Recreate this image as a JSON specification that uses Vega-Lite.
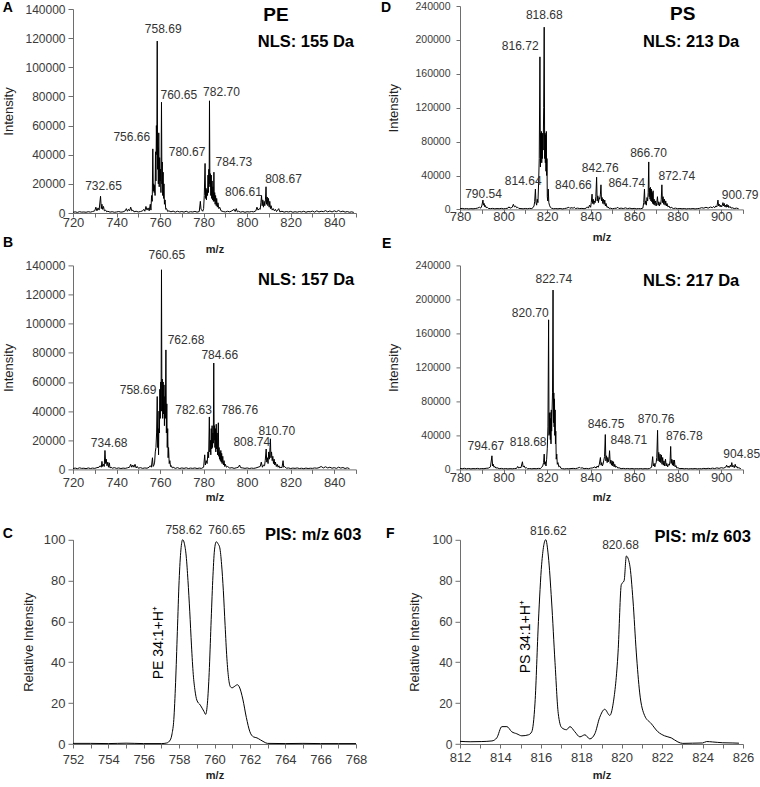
{
"$schema": "https://vega.github.io/schema/vega-lite/v6.json",
"padding": {"left": 2, "top": 1, "right": 0, "bottom": 0},
"config": {
 "font": "Liberation Sans",
 "view": {"stroke": null},
 "axis": {"domainColor": "#6e6e6e", "tickColor": "#6e6e6e", "labelColor": "#3a3a3a", "titleColor": "#222222", "grid": false, "labelFont": "Liberation Sans", "titleFont": "Liberation Sans", "labelFlush": false, "labelOverlap": false, "domainWidth": 1, "tickWidth": 1},
 "axisX": {"tickSize": 4, "labelPadding": 1, "labelFontSize": 13, "titleFontSize": 11, "titleFontWeight": "bold", "titlePadding": 10},
 "axisY": {"tickSize": 5, "labelPadding": 3, "labelFontSize": 12, "titleFontSize": 13, "titleFontWeight": "normal", "titlePadding": 9},
 "title": {"anchor": "start", "frame": "group", "offset": 0, "fontSize": 14, "fontWeight": "bold", "font": "Liberation Sans", "color": "#000000", "baseline": "alphabetic"}
},
"columns": 2,
"align": "each",
"bounds": "flush",
"spacing": {"row": 52.4, "column": 104},
"datasets": {
 "A": [{"m":720,"v":500},{"m":721,"v":800},{"m":722,"v":400},{"m":723,"v":900},{"m":724,"v":600},{"m":725,"v":700},{"m":726,"v":500},{"m":727,"v":900},{"m":728,"v":600},{"m":729,"v":1000},{"m":730,"v":1500},{"m":730.5,"v":4000},{"m":731,"v":1500},{"m":731.5,"v":3500},{"m":732,"v":2000},{"m":732.65,"v":11500},{"m":733,"v":3000},{"m":733.3,"v":6000},{"m":733.6,"v":2500},{"m":734,"v":4500},{"m":734.4,"v":1500},{"m":735,"v":2000},{"m":735.5,"v":800},{"m":736,"v":1200},{"m":737,"v":600},{"m":738,"v":900},{"m":739,"v":500},{"m":740,"v":700},{"m":741,"v":1000},{"m":742,"v":600},{"m":743,"v":800},{"m":744,"v":1500},{"m":744.5,"v":3000},{"m":745,"v":1200},{"m":745.5,"v":2500},{"m":746,"v":1500},{"m":746.5,"v":4000},{"m":747,"v":1500},{"m":747.5,"v":2000},{"m":748,"v":800},{"m":749,"v":1200},{"m":750,"v":700},{"m":751,"v":1000},{"m":752,"v":1500},{"m":752.5,"v":2500},{"m":753,"v":1200},{"m":753.5,"v":4500},{"m":754,"v":2000},{"m":754.5,"v":3500},{"m":755,"v":1500},{"m":755.5,"v":6000},{"m":755.8,"v":2000},{"m":756.1,"v":12000},{"m":756.4,"v":8000},{"m":756.66,"v":44000},{"m":756.9,"v":15000},{"m":757.1,"v":20000},{"m":757.3,"v":14000},{"m":757.5,"v":19000},{"m":757.7,"v":12000},{"m":757.9,"v":42000},{"m":758.1,"v":22000},{"m":758.3,"v":60000},{"m":758.5,"v":40000},{"m":758.69,"v":118000},{"m":758.85,"v":30000},{"m":759,"v":45000},{"m":759.2,"v":20000},{"m":759.4,"v":55000},{"m":759.6,"v":18000},{"m":759.8,"v":38000},{"m":760,"v":22000},{"m":760.2,"v":30000},{"m":760.4,"v":14000},{"m":760.65,"v":76000},{"m":760.85,"v":20000},{"m":761,"v":35000},{"m":761.2,"v":12000},{"m":761.4,"v":28000},{"m":761.6,"v":10000},{"m":761.8,"v":20000},{"m":762,"v":6000},{"m":762.3,"v":9000},{"m":762.6,"v":2500},{"m":763,"v":3000},{"m":763.5,"v":1000},{"m":764,"v":1500},{"m":765,"v":800},{"m":766,"v":1300},{"m":767,"v":600},{"m":768,"v":1200},{"m":769,"v":700},{"m":770,"v":1000},{"m":771,"v":600},{"m":772,"v":1200},{"m":773,"v":500},{"m":774,"v":900},{"m":775,"v":700},{"m":776,"v":1100},{"m":777,"v":600},{"m":778,"v":1000},{"m":778.5,"v":8000},{"m":778.8,"v":2500},{"m":779.2,"v":2000},{"m":779.6,"v":1200},{"m":780,"v":3000},{"m":780.3,"v":12000},{"m":780.67,"v":34000},{"m":780.9,"v":10000},{"m":781.1,"v":17000},{"m":781.3,"v":9000},{"m":781.5,"v":16000},{"m":781.8,"v":12000},{"m":782,"v":26000},{"m":782.2,"v":14000},{"m":782.4,"v":30000},{"m":782.55,"v":20000},{"m":782.7,"v":77000},{"m":782.9,"v":18000},{"m":783.1,"v":27000},{"m":783.3,"v":12000},{"m":783.5,"v":26000},{"m":783.7,"v":10000},{"m":783.9,"v":22000},{"m":784.1,"v":9000},{"m":784.3,"v":18000},{"m":784.5,"v":8000},{"m":784.73,"v":28000},{"m":784.9,"v":8000},{"m":785.1,"v":14000},{"m":785.3,"v":6000},{"m":785.5,"v":12000},{"m":785.8,"v":5000},{"m":786,"v":10000},{"m":786.3,"v":4000},{"m":786.6,"v":7000},{"m":787,"v":3000},{"m":787.4,"v":4000},{"m":788,"v":1500},{"m":789,"v":1000},{"m":790,"v":700},{"m":791,"v":1200},{"m":792,"v":800},{"m":793,"v":1500},{"m":794,"v":2500},{"m":794.5,"v":1000},{"m":795,"v":3000},{"m":795.5,"v":800},{"m":796,"v":1200},{"m":797,"v":600},{"m":798,"v":1000},{"m":799,"v":500},{"m":800,"v":900},{"m":801,"v":700},{"m":802,"v":1000},{"m":803,"v":800},{"m":804,"v":1500},{"m":804.5,"v":4000},{"m":805,"v":2000},{"m":805.5,"v":3000},{"m":806,"v":2500},{"m":806.3,"v":7000},{"m":806.61,"v":12000},{"m":806.9,"v":5000},{"m":807.2,"v":9000},{"m":807.5,"v":4000},{"m":807.8,"v":8000},{"m":808.1,"v":5000},{"m":808.4,"v":9000},{"m":808.67,"v":18000},{"m":808.9,"v":6000},{"m":809.2,"v":11000},{"m":809.5,"v":5000},{"m":809.8,"v":10000},{"m":810.1,"v":4000},{"m":810.4,"v":8000},{"m":810.7,"v":3000},{"m":811,"v":5000},{"m":811.5,"v":2000},{"m":812,"v":3000},{"m":812.5,"v":1500},{"m":813,"v":2500},{"m":813.5,"v":1000},{"m":814,"v":2000},{"m":814.5,"v":3000},{"m":815,"v":800},{"m":816,"v":1200},{"m":817,"v":600},{"m":818,"v":1000},{"m":819,"v":700},{"m":820,"v":1100},{"m":821,"v":500},{"m":822,"v":900},{"m":823,"v":600},{"m":824,"v":1000},{"m":825,"v":700},{"m":826,"v":1200},{"m":827,"v":500},{"m":828,"v":1000},{"m":829,"v":800},{"m":830,"v":1300},{"m":831,"v":600},{"m":832,"v":1500},{"m":833,"v":700},{"m":834,"v":1200},{"m":835,"v":900},{"m":836,"v":1600},{"m":837,"v":800},{"m":838,"v":1400},{"m":839,"v":700},{"m":840,"v":1500},{"m":841,"v":900},{"m":842,"v":1700},{"m":843,"v":800},{"m":844,"v":1300},{"m":845,"v":600},{"m":846,"v":1000},{"m":847,"v":500},{"m":848,"v":800},{"m":849,"v":400}],
 "Apk": [{"m":761.43,"v":123300,"t":"758.69"},{"m":768.6,"v":78200,"t":"760.65"},{"m":788.2,"v":80100,"t":"782.70"},{"m":747.0,"v":49600,"t":"756.66"},{"m":772.4,"v":39300,"t":"780.67"},{"m":793.9,"v":32500,"t":"784.73"},{"m":734.0,"v":16000,"t":"732.65"},{"m":798.3,"v":11900,"t":"806.61"},{"m":816.7,"v":20600,"t":"808.67"}],
 "Ahd": [{"m":813.2,"v":132000,"t":"PE"}],
 "Anls": [{"m":849.1,"v":113900,"t":"NLS: 155 Da"}],
 "B": [{"m":720,"v":600},{"m":721,"v":900},{"m":722,"v":500},{"m":723,"v":1100},{"m":724,"v":700},{"m":725,"v":800},{"m":726,"v":500},{"m":727,"v":1000},{"m":728,"v":600},{"m":729,"v":900},{"m":730,"v":700},{"m":731,"v":1200},{"m":732,"v":1500},{"m":732.5,"v":2500},{"m":733,"v":1500},{"m":733.3,"v":5500},{"m":733.6,"v":2000},{"m":734,"v":3500},{"m":734.35,"v":2000},{"m":734.68,"v":13000},{"m":735,"v":4000},{"m":735.3,"v":7000},{"m":735.6,"v":2500},{"m":736,"v":5000},{"m":736.3,"v":1500},{"m":736.7,"v":4500},{"m":737,"v":1000},{"m":737.5,"v":1500},{"m":738,"v":800},{"m":739,"v":1200},{"m":740,"v":700},{"m":741,"v":1000},{"m":742,"v":600},{"m":743,"v":900},{"m":744,"v":700},{"m":745,"v":1100},{"m":746,"v":1500},{"m":746.5,"v":3500},{"m":747,"v":1500},{"m":747.5,"v":3000},{"m":748,"v":1500},{"m":748.5,"v":3500},{"m":749,"v":1000},{"m":749.5,"v":2000},{"m":750,"v":800},{"m":751,"v":1200},{"m":752,"v":700},{"m":753,"v":1000},{"m":754,"v":800},{"m":755,"v":1500},{"m":755.5,"v":2500},{"m":756,"v":1500},{"m":756.5,"v":8000},{"m":756.8,"v":2000},{"m":757.2,"v":3000},{"m":757.5,"v":5000},{"m":757.8,"v":12000},{"m":758.1,"v":15000},{"m":758.4,"v":25000},{"m":758.69,"v":50000},{"m":758.9,"v":15000},{"m":759.1,"v":28000},{"m":759.3,"v":10000},{"m":759.5,"v":40000},{"m":759.7,"v":25000},{"m":759.9,"v":55000},{"m":760.1,"v":35000},{"m":760.3,"v":60000},{"m":760.45,"v":40000},{"m":760.65,"v":137000},{"m":760.85,"v":40000},{"m":761,"v":62000},{"m":761.2,"v":35000},{"m":761.4,"v":60000},{"m":761.6,"v":38000},{"m":761.8,"v":58000},{"m":762,"v":30000},{"m":762.2,"v":50000},{"m":762.4,"v":35000},{"m":762.68,"v":82000},{"m":762.9,"v":25000},{"m":763.1,"v":45000},{"m":763.3,"v":15000},{"m":763.5,"v":28000},{"m":763.7,"v":8000},{"m":763.9,"v":15000},{"m":764.2,"v":4000},{"m":764.5,"v":6000},{"m":764.8,"v":2000},{"m":765.2,"v":2500},{"m":765.6,"v":1000},{"m":766,"v":1500},{"m":767,"v":700},{"m":768,"v":1200},{"m":769,"v":600},{"m":770,"v":1000},{"m":771,"v":700},{"m":772,"v":1100},{"m":773,"v":600},{"m":774,"v":900},{"m":775,"v":700},{"m":776,"v":1000},{"m":777,"v":600},{"m":778,"v":900},{"m":779,"v":700},{"m":780,"v":1500},{"m":780.5,"v":10000},{"m":780.8,"v":3000},{"m":781.2,"v":6000},{"m":781.6,"v":4000},{"m":782,"v":12000},{"m":782.3,"v":8000},{"m":782.63,"v":36000},{"m":782.85,"v":12000},{"m":783.1,"v":20000},{"m":783.3,"v":10000},{"m":783.5,"v":28000},{"m":783.7,"v":14000},{"m":783.9,"v":30000},{"m":784.1,"v":15000},{"m":784.3,"v":25000},{"m":784.45,"v":18000},{"m":784.66,"v":73000},{"m":784.85,"v":20000},{"m":785,"v":30000},{"m":785.2,"v":15000},{"m":785.4,"v":28000},{"m":785.6,"v":12000},{"m":785.8,"v":31000},{"m":786,"v":14000},{"m":786.2,"v":25000},{"m":786.4,"v":10000},{"m":786.76,"v":32000},{"m":786.95,"v":9000},{"m":787.1,"v":15000},{"m":787.3,"v":7000},{"m":787.5,"v":12000},{"m":787.7,"v":6000},{"m":787.9,"v":13000},{"m":788.1,"v":5000},{"m":788.3,"v":11000},{"m":788.5,"v":4000},{"m":788.8,"v":9000},{"m":789.1,"v":3000},{"m":789.4,"v":6000},{"m":789.7,"v":2000},{"m":790,"v":3500},{"m":790.5,"v":1500},{"m":791,"v":2000},{"m":792,"v":900},{"m":793,"v":1200},{"m":794,"v":700},{"m":795,"v":1100},{"m":796,"v":1500},{"m":796.5,"v":3000},{"m":797,"v":1200},{"m":798,"v":1000},{"m":799,"v":700},{"m":800,"v":1000},{"m":801,"v":600},{"m":802,"v":900},{"m":803,"v":700},{"m":804,"v":1000},{"m":805,"v":1500},{"m":806,"v":2000},{"m":806.5,"v":5000},{"m":807,"v":1500},{"m":807.5,"v":3000},{"m":808,"v":2500},{"m":808.3,"v":6000},{"m":808.74,"v":14000},{"m":809,"v":5000},{"m":809.3,"v":8000},{"m":809.6,"v":4000},{"m":809.9,"v":12000},{"m":810.2,"v":7000},{"m":810.5,"v":15000},{"m":810.7,"v":21000},{"m":810.9,"v":8000},{"m":811.2,"v":12000},{"m":811.5,"v":6000},{"m":811.8,"v":9000},{"m":812.1,"v":4000},{"m":812.4,"v":7000},{"m":812.7,"v":3000},{"m":813,"v":5000},{"m":813.4,"v":2000},{"m":813.8,"v":3500},{"m":814.2,"v":1500},{"m":814.6,"v":2500},{"m":815,"v":1000},{"m":815.5,"v":1500},{"m":816,"v":1200},{"m":816.5,"v":6000},{"m":816.8,"v":1500},{"m":817.2,"v":2000},{"m":818,"v":800},{"m":819,"v":1000},{"m":820,"v":600},{"m":821,"v":900},{"m":822,"v":700},{"m":823,"v":1000},{"m":824,"v":600},{"m":825,"v":800},{"m":826,"v":500},{"m":827,"v":900},{"m":828,"v":600},{"m":829,"v":800},{"m":830,"v":700},{"m":831,"v":1000},{"m":832,"v":800},{"m":833,"v":1200},{"m":834,"v":2000},{"m":835,"v":1000},{"m":836,"v":1800},{"m":837,"v":1000},{"m":838,"v":1500},{"m":839,"v":800},{"m":840,"v":1200},{"m":841,"v":700},{"m":842,"v":1500},{"m":843,"v":900},{"m":844,"v":1300},{"m":845,"v":600},{"m":846,"v":1100},{"m":847,"v":500}],
 "Bpk": [{"m":763.1,"v":144600,"t":"760.65"},{"m":771.9,"v":86300,"t":"762.68"},{"m":787.4,"v":76000,"t":"784.66"},{"m":749.9,"v":52000,"t":"758.69"},{"m":775.4,"v":38200,"t":"782.63"},{"m":796.6,"v":38200,"t":"786.76"},{"m":736.6,"v":15400,"t":"734.68"},{"m":802.1,"v":15800,"t":"808.74"},{"m":813.6,"v":23800,"t":"810.70"}],
 "Bnls": [{"m":849.2,"v":126800,"t":"NLS: 157 Da"}],
 "D": [{"m":780,"v":800},{"m":781,"v":1200},{"m":782,"v":700},{"m":783,"v":1000},{"m":784,"v":600},{"m":785,"v":900},{"m":786,"v":700},{"m":787,"v":1000},{"m":788,"v":1500},{"m":789,"v":2500},{"m":789.5,"v":1500},{"m":790,"v":4000},{"m":790.54,"v":11000},{"m":790.8,"v":5000},{"m":791.1,"v":7000},{"m":791.4,"v":3000},{"m":791.7,"v":4500},{"m":792,"v":2000},{"m":792.5,"v":2500},{"m":793,"v":1200},{"m":794,"v":900},{"m":795,"v":1200},{"m":796,"v":700},{"m":797,"v":1000},{"m":798,"v":800},{"m":799,"v":1200},{"m":800,"v":700},{"m":801,"v":1000},{"m":802,"v":1500},{"m":802.5,"v":3000},{"m":803,"v":1500},{"m":803.5,"v":2000},{"m":804,"v":2500},{"m":804.5,"v":6000},{"m":805,"v":3000},{"m":805.5,"v":4000},{"m":806,"v":2000},{"m":806.5,"v":2500},{"m":807,"v":1200},{"m":808,"v":1000},{"m":809,"v":700},{"m":810,"v":1100},{"m":811,"v":800},{"m":812,"v":1200},{"m":813,"v":1000},{"m":813.5,"v":2000},{"m":814,"v":4000},{"m":814.3,"v":9000},{"m":814.64,"v":24000},{"m":814.9,"v":8000},{"m":815.2,"v":5000},{"m":815.5,"v":12000},{"m":815.8,"v":8000},{"m":816.1,"v":30000},{"m":816.4,"v":60000},{"m":816.72,"v":180000},{"m":816.95,"v":50000},{"m":817.1,"v":90000},{"m":817.25,"v":60000},{"m":817.4,"v":92000},{"m":817.55,"v":55000},{"m":817.7,"v":88000},{"m":817.85,"v":60000},{"m":818,"v":90000},{"m":818.2,"v":70000},{"m":818.45,"v":120000},{"m":818.68,"v":215000},{"m":818.9,"v":60000},{"m":819.05,"v":90000},{"m":819.2,"v":55000},{"m":819.35,"v":88000},{"m":819.5,"v":45000},{"m":819.65,"v":92000},{"m":819.8,"v":40000},{"m":819.95,"v":60000},{"m":820.1,"v":15000},{"m":820.3,"v":10000},{"m":820.55,"v":24000},{"m":820.8,"v":8000},{"m":821.1,"v":5000},{"m":821.5,"v":2500},{"m":822,"v":1500},{"m":823,"v":800},{"m":824,"v":1000},{"m":825,"v":700},{"m":826,"v":1100},{"m":827,"v":600},{"m":828,"v":1000},{"m":829,"v":1500},{"m":830,"v":2500},{"m":830.5,"v":1200},{"m":831,"v":2000},{"m":832,"v":1500},{"m":832.5,"v":2500},{"m":833,"v":1000},{"m":834,"v":1500},{"m":835,"v":1000},{"m":836,"v":1200},{"m":837,"v":800},{"m":838,"v":1500},{"m":838.5,"v":3000},{"m":839,"v":1500},{"m":839.5,"v":5000},{"m":840,"v":2500},{"m":840.3,"v":8000},{"m":840.66,"v":18000},{"m":840.9,"v":7000},{"m":841.2,"v":12000},{"m":841.5,"v":6000},{"m":841.8,"v":10000},{"m":842.1,"v":8000},{"m":842.4,"v":15000},{"m":842.76,"v":38000},{"m":843,"v":10000},{"m":843.3,"v":16000},{"m":843.6,"v":8000},{"m":843.9,"v":14000},{"m":844.2,"v":12000},{"m":844.5,"v":18000},{"m":844.75,"v":29000},{"m":845,"v":10000},{"m":845.3,"v":14000},{"m":845.6,"v":7000},{"m":845.9,"v":12000},{"m":846.2,"v":6000},{"m":846.5,"v":11000},{"m":846.8,"v":4000},{"m":847.1,"v":7000},{"m":847.5,"v":2500},{"m":848,"v":3000},{"m":848.5,"v":1200},{"m":849,"v":1500},{"m":850,"v":800},{"m":851,"v":1200},{"m":852,"v":1500},{"m":852.5,"v":2500},{"m":853,"v":1000},{"m":854,"v":1500},{"m":855,"v":1000},{"m":856,"v":1800},{"m":857,"v":900},{"m":858,"v":1500},{"m":859,"v":800},{"m":860,"v":1200},{"m":861,"v":700},{"m":862,"v":1000},{"m":863,"v":800},{"m":864,"v":1500},{"m":864.4,"v":8000},{"m":864.74,"v":24000},{"m":865,"v":6000},{"m":865.3,"v":10000},{"m":865.6,"v":5000},{"m":865.9,"v":14000},{"m":866.2,"v":10000},{"m":866.45,"v":20000},{"m":866.7,"v":56000},{"m":866.9,"v":15000},{"m":867.1,"v":25000},{"m":867.3,"v":12000},{"m":867.5,"v":26000},{"m":867.7,"v":10000},{"m":867.9,"v":24000},{"m":868.1,"v":9000},{"m":868.3,"v":20000},{"m":868.5,"v":7000},{"m":868.7,"v":22000},{"m":868.9,"v":6000},{"m":869.2,"v":12000},{"m":869.5,"v":5000},{"m":869.8,"v":10000},{"m":870.1,"v":4000},{"m":870.4,"v":8000},{"m":870.7,"v":15000},{"m":871,"v":5000},{"m":871.3,"v":9000},{"m":871.6,"v":4000},{"m":871.9,"v":8000},{"m":872.2,"v":6000},{"m":872.45,"v":12000},{"m":872.74,"v":29000},{"m":873,"v":8000},{"m":873.3,"v":15000},{"m":873.6,"v":6000},{"m":873.9,"v":12000},{"m":874.2,"v":5000},{"m":874.5,"v":10000},{"m":874.8,"v":4000},{"m":875.1,"v":7000},{"m":875.5,"v":3000},{"m":876,"v":4000},{"m":876.5,"v":1500},{"m":877,"v":2500},{"m":878,"v":1000},{"m":879,"v":1500},{"m":880,"v":800},{"m":881,"v":1100},{"m":882,"v":700},{"m":883,"v":1000},{"m":884,"v":600},{"m":885,"v":900},{"m":886,"v":700},{"m":887,"v":1000},{"m":888,"v":600},{"m":889,"v":900},{"m":890,"v":1200},{"m":891,"v":2000},{"m":892,"v":1500},{"m":893,"v":2500},{"m":894,"v":1500},{"m":895,"v":2800},{"m":896,"v":2000},{"m":896.5,"v":3500},{"m":897,"v":2000},{"m":897.5,"v":4000},{"m":898,"v":3000},{"m":898.5,"v":11000},{"m":898.8,"v":4000},{"m":899.2,"v":6000},{"m":899.5,"v":3000},{"m":899.8,"v":5000},{"m":900.2,"v":3000},{"m":900.5,"v":5000},{"m":900.79,"v":8000},{"m":901.1,"v":4000},{"m":901.4,"v":7000},{"m":901.7,"v":3000},{"m":902,"v":5000},{"m":902.3,"v":2500},{"m":902.6,"v":6000},{"m":902.9,"v":3000},{"m":903.2,"v":5000},{"m":903.5,"v":2000},{"m":904,"v":3500},{"m":904.5,"v":1500},{"m":905,"v":2000},{"m":906,"v":1000},{"m":907,"v":1500},{"m":908,"v":800}],
 "Dpk": [{"m":818.72,"v":224200,"t":"818.68"},{"m":807.65,"v":187600,"t":"816.72"},{"m":809.03,"v":29100,"t":"814.64"},{"m":790.8,"v":13400,"t":"790.54"},{"m":832.1,"v":24400,"t":"840.66"},{"m":844.4,"v":44100,"t":"842.76"},{"m":856.6,"v":26400,"t":"864.74"},{"m":866.6,"v":61800,"t":"866.70"},{"m":879.6,"v":34200,"t":"872.74"},{"m":908.7,"v":12600,"t":"900.79"}],
 "Dhd": [{"m":882.3,"v":223000,"t":"PS"}],
 "Dnls": [{"m":908.3,"v":191600,"t":"NLS: 213 Da"}],
 "E": [{"m":780,"v":1200},{"m":781,"v":800},{"m":782,"v":1300},{"m":783,"v":700},{"m":784,"v":1100},{"m":785,"v":600},{"m":786,"v":1000},{"m":787,"v":800},{"m":788,"v":1200},{"m":789,"v":700},{"m":790,"v":1000},{"m":791,"v":800},{"m":792,"v":1300},{"m":793,"v":1500},{"m":794,"v":3000},{"m":794.67,"v":16000},{"m":795,"v":4000},{"m":795.3,"v":6000},{"m":795.6,"v":2500},{"m":796,"v":3500},{"m":796.5,"v":1500},{"m":797,"v":2000},{"m":798,"v":900},{"m":799,"v":1200},{"m":800,"v":700},{"m":801,"v":1000},{"m":802,"v":600},{"m":803,"v":900},{"m":804,"v":700},{"m":805,"v":1000},{"m":806,"v":1200},{"m":806.5,"v":3500},{"m":807,"v":1500},{"m":807.5,"v":2500},{"m":808,"v":2000},{"m":808.68,"v":9000},{"m":809,"v":3000},{"m":809.5,"v":4000},{"m":810,"v":1500},{"m":810.5,"v":2000},{"m":811,"v":800},{"m":812,"v":1000},{"m":813,"v":700},{"m":814,"v":1000},{"m":815,"v":800},{"m":816,"v":1200},{"m":817,"v":1000},{"m":817.5,"v":2500},{"m":818,"v":4000},{"m":818.4,"v":8000},{"m":818.68,"v":18000},{"m":818.9,"v":6000},{"m":819.2,"v":9000},{"m":819.5,"v":4000},{"m":819.8,"v":12000},{"m":820.1,"v":25000},{"m":820.4,"v":50000},{"m":820.7,"v":176000},{"m":820.9,"v":40000},{"m":821.05,"v":66000},{"m":821.2,"v":42000},{"m":821.35,"v":67000},{"m":821.5,"v":35000},{"m":821.65,"v":60000},{"m":821.8,"v":30000},{"m":821.95,"v":70000},{"m":822.1,"v":45000},{"m":822.3,"v":70000},{"m":822.5,"v":90000},{"m":822.74,"v":211000},{"m":822.95,"v":55000},{"m":823.1,"v":90000},{"m":823.25,"v":50000},{"m":823.4,"v":83000},{"m":823.55,"v":40000},{"m":823.7,"v":70000},{"m":823.85,"v":30000},{"m":824,"v":45000},{"m":824.2,"v":12000},{"m":824.45,"v":18000},{"m":824.7,"v":6000},{"m":825,"v":8000},{"m":825.4,"v":3000},{"m":825.8,"v":4000},{"m":826.3,"v":1500},{"m":827,"v":900},{"m":828,"v":600},{"m":829,"v":900},{"m":830,"v":700},{"m":831,"v":1000},{"m":832,"v":1200},{"m":833,"v":900},{"m":834,"v":1500},{"m":835,"v":2500},{"m":835.5,"v":1200},{"m":836,"v":2000},{"m":837,"v":900},{"m":838,"v":1200},{"m":839,"v":800},{"m":840,"v":1500},{"m":841,"v":1800},{"m":842,"v":3000},{"m":842.5,"v":1500},{"m":843,"v":4000},{"m":843.5,"v":2500},{"m":844,"v":6000},{"m":844.5,"v":14000},{"m":844.8,"v":5000},{"m":845.1,"v":8000},{"m":845.4,"v":4000},{"m":845.7,"v":6000},{"m":846,"v":10000},{"m":846.4,"v":15000},{"m":846.75,"v":41000},{"m":847,"v":10000},{"m":847.3,"v":16000},{"m":847.6,"v":8000},{"m":847.9,"v":14000},{"m":848.2,"v":9000},{"m":848.45,"v":13000},{"m":848.71,"v":22000},{"m":849,"v":7000},{"m":849.3,"v":11000},{"m":849.6,"v":5000},{"m":849.9,"v":10000},{"m":850.2,"v":4000},{"m":850.5,"v":9000},{"m":850.8,"v":3000},{"m":851.1,"v":6000},{"m":851.5,"v":2500},{"m":852,"v":3500},{"m":852.5,"v":1500},{"m":853,"v":2000},{"m":854,"v":900},{"m":855,"v":1200},{"m":856,"v":800},{"m":857,"v":1100},{"m":858,"v":700},{"m":859,"v":1000},{"m":860,"v":600},{"m":861,"v":900},{"m":862,"v":700},{"m":863,"v":1000},{"m":864,"v":600},{"m":865,"v":900},{"m":866,"v":700},{"m":867,"v":1000},{"m":868,"v":2500},{"m":868.5,"v":15000},{"m":868.8,"v":4000},{"m":869.2,"v":7000},{"m":869.5,"v":3000},{"m":869.8,"v":6000},{"m":870.1,"v":8000},{"m":870.4,"v":14000},{"m":870.76,"v":46000},{"m":871,"v":10000},{"m":871.3,"v":20000},{"m":871.6,"v":9000},{"m":871.9,"v":18000},{"m":872.2,"v":8000},{"m":872.5,"v":17000},{"m":872.8,"v":6000},{"m":873.1,"v":14000},{"m":873.4,"v":5000},{"m":873.7,"v":10000},{"m":874,"v":4000},{"m":874.4,"v":12000},{"m":874.7,"v":4000},{"m":875,"v":7000},{"m":875.4,"v":3000},{"m":875.8,"v":6000},{"m":876.2,"v":5000},{"m":876.5,"v":10000},{"m":876.78,"v":27000},{"m":877,"v":7000},{"m":877.3,"v":12000},{"m":877.6,"v":5000},{"m":877.9,"v":11000},{"m":878.2,"v":4000},{"m":878.5,"v":11000},{"m":878.8,"v":3000},{"m":879.2,"v":4500},{"m":879.6,"v":1500},{"m":880,"v":2000},{"m":881,"v":900},{"m":882,"v":1100},{"m":883,"v":700},{"m":884,"v":1000},{"m":885,"v":600},{"m":886,"v":900},{"m":887,"v":700},{"m":888,"v":1000},{"m":889,"v":600},{"m":890,"v":900},{"m":891,"v":700},{"m":892,"v":1200},{"m":893,"v":800},{"m":894,"v":1300},{"m":895,"v":900},{"m":896,"v":1500},{"m":897,"v":1000},{"m":898,"v":1800},{"m":899,"v":1200},{"m":900,"v":2000},{"m":901,"v":1500},{"m":902,"v":2500},{"m":902.5,"v":5000},{"m":902.8,"v":2500},{"m":903.2,"v":4000},{"m":903.6,"v":2000},{"m":904.2,"v":5000},{"m":904.5,"v":3000},{"m":904.85,"v":8000},{"m":905.2,"v":3000},{"m":905.6,"v":4500},{"m":906,"v":2000},{"m":906.4,"v":6000},{"m":906.8,"v":2500},{"m":907.2,"v":3500},{"m":907.6,"v":1500},{"m":908,"v":2000},{"m":909,"v":900}],
 "Epk": [{"m":823.1,"v":219100,"t":"822.74"},{"m":812.25,"v":179800,"t":"820.70"},{"m":791.9,"v":23200,"t":"794.67"},{"m":811.3,"v":27100,"t":"818.68"},{"m":847.1,"v":48800,"t":"846.75"},{"m":857.6,"v":30300,"t":"848.71"},{"m":870.1,"v":55100,"t":"870.76"},{"m":883.0,"v":34200,"t":"876.78"},{"m":909.4,"v":13500,"t":"904.85"}],
 "Enls": [{"m":908.3,"v":215200,"t":"NLS: 217 Da"}],
 "C": [{"m":752,"v":0.3},{"m":753,"v":0.3},{"m":754,"v":0.2},{"m":755,"v":0.4},{"m":756,"v":0.2},{"m":757,"v":0.2},{"m":757.3,"v":0.5},{"m":757.5,"v":2},{"m":757.6,"v":5},{"m":757.7,"v":12},{"m":757.8,"v":30},{"m":757.9,"v":55},{"m":758,"v":80},{"m":758.1,"v":95},{"m":758.2,"v":100},{"m":758.3,"v":98},{"m":758.4,"v":92},{"m":758.5,"v":80},{"m":758.6,"v":65},{"m":758.7,"v":48},{"m":758.8,"v":34},{"m":758.9,"v":26},{"m":759,"v":21.5},{"m":759.2,"v":19},{"m":759.4,"v":16},{"m":759.5,"v":14.5},{"m":759.6,"v":20},{"m":759.7,"v":35},{"m":759.8,"v":58},{"m":759.9,"v":80},{"m":760,"v":95},{"m":760.1,"v":99},{"m":760.2,"v":98},{"m":760.3,"v":96},{"m":760.4,"v":88},{"m":760.5,"v":75},{"m":760.6,"v":58},{"m":760.7,"v":42},{"m":760.8,"v":32},{"m":760.9,"v":28},{"m":761,"v":27.5},{"m":761.1,"v":28},{"m":761.3,"v":29},{"m":761.4,"v":28},{"m":761.6,"v":22},{"m":761.8,"v":13},{"m":762,"v":6},{"m":762.2,"v":3.5},{"m":762.4,"v":3},{"m":762.6,"v":2},{"m":762.8,"v":1},{"m":763,"v":0.3},{"m":764,"v":0.2},{"m":765,"v":0.3},{"m":766,"v":0.2},{"m":767,"v":0.2},{"m":768,"v":0.2}],
 "Cpk": [{"m":758.26,"v":102.9,"t":"758.62"},{"m":760.69,"v":102.9,"t":"760.65"}],
 "Cnls": [{"m":768.3,"v":99.7,"t":"PIS: m/z 603"}],
 "Crot": [{"m":756.86,"v":49.6,"t":"PE 34:1+H⁺"}],
 "F": [{"m":812,"v":1.3},{"m":812.5,"v":1.1},{"m":813.08,"v":1.2},{"m":813.58,"v":1.5},{"m":813.82,"v":3},{"m":814.07,"v":8.5},{"m":814.32,"v":8.5},{"m":814.56,"v":6},{"m":814.81,"v":5},{"m":815.06,"v":4},{"m":815.39,"v":4.5},{"m":815.55,"v":6},{"m":815.71,"v":20},{"m":815.88,"v":60},{"m":816.04,"v":88},{"m":816.24,"v":100},{"m":816.37,"v":92},{"m":816.53,"v":70},{"m":816.7,"v":40},{"m":816.86,"v":15},{"m":817.03,"v":8},{"m":817.27,"v":7},{"m":817.44,"v":8.5},{"m":817.68,"v":6},{"m":817.93,"v":3.5},{"m":818.18,"v":4.5},{"m":818.42,"v":2.5},{"m":818.67,"v":5},{"m":818.91,"v":13},{"m":819.16,"v":17},{"m":819.41,"v":14},{"m":819.58,"v":20},{"m":819.82,"v":45},{"m":819.98,"v":78},{"m":820.12,"v":80},{"m":820.23,"v":92},{"m":820.39,"v":88},{"m":820.56,"v":70},{"m":820.72,"v":45},{"m":820.89,"v":25},{"m":821.13,"v":14},{"m":821.46,"v":10},{"m":821.79,"v":6},{"m":822.12,"v":4},{"m":822.45,"v":3},{"m":822.78,"v":1},{"m":823.02,"v":0.3},{"m":823.5,"v":0.4},{"m":824,"v":0.5},{"m":824.2,"v":1.2},{"m":824.5,"v":1},{"m":825,"v":0.6},{"m":825.5,"v":0.5},{"m":825.8,"v":0.4}],
 "Fpk": [{"m":816.37,"v":102.4,"t":"816.62"},{"m":819.94,"v":95.6,"t":"820.68"}],
 "Fnls": [{"m":826.39,"v":98.9,"t":"PIS: m/z 603"}],
 "Frot": [{"m":815.25,"v":52.5,"t":"PS 34:1+H⁺"}]
},
"concat": [
 {
  "width": 283, "height": 207,
  "title": {"text": "A", "dx": -70.3, "dy": 16.1},
  "encoding": {
   "x": {"field": "m", "type": "quantitative", "title": "m/z", "scale": {"domain": [720, 850], "nice": false, "zero": false}, "axis": {"values": [720,730,740,750,760,770,780,790,800,810,820,830,840,850], "labelExpr": "datum.value % 20 == 0 ? datum.label : ''", "format": "d", "labelPadding": -0.6, "titlePadding": 14.3}},
   "y": {"field": "v", "type": "quantitative", "title": "Intensity", "scale": {"domain": [0, 140000], "nice": false, "range": [207, 3]}, "axis": {"values": [0,20000,40000,60000,80000,100000,120000,140000], "format": "d"}}
  },
  "layer": [
   {"data": {"name": "A"}, "mark": {"type": "line", "color": "#000000", "strokeWidth": 1}},
   {"data": {"name": "Apk"}, "mark": {"type": "text", "fontSize": 12, "color": "#333333", "baseline": "alphabetic", "align": "center"}, "encoding": {"text": {"field": "t"}}},
   {"data": {"name": "Ahd"}, "mark": {"type": "text", "fontSize": 19, "fontWeight": "bold", "color": "#000000", "baseline": "alphabetic", "align": "center"}, "encoding": {"text": {"field": "t"}}},
   {"data": {"name": "Anls"}, "mark": {"type": "text", "fontSize": 16.5, "fontWeight": "bold", "color": "#000000", "baseline": "alphabetic", "align": "right"}, "encoding": {"text": {"field": "t"}}}
  ]
 },
 {
  "width": 283, "height": 203.4,
  "title": {"text": "D", "dx": -79, "dy": 18.4},
  "encoding": {
   "x": {"field": "m", "type": "quantitative", "title": "m/z", "scale": {"domain": [780, 910], "nice": false, "zero": false}, "axis": {"values": [780,790,800,810,820,830,840,850,860,870,880,890,900,910], "labelExpr": "datum.value % 20 == 0 && datum.value < 910 ? datum.label : ''", "format": "d", "labelPadding": -2.8, "titlePadding": 7.5}},
   "y": {"field": "v", "type": "quantitative", "title": "Intensity", "scale": {"domain": [0, 240000], "nice": false}, "axis": {"values": [0,40000,80000,120000,160000,200000,240000], "format": "d", "labelFontSize": 10.5, "tickSize": 4, "labelPadding": 6, "titlePadding": 14}}
  },
  "layer": [
   {"data": {"name": "D"}, "mark": {"type": "line", "color": "#000000", "strokeWidth": 1}},
   {"data": {"name": "Dpk"}, "mark": {"type": "text", "fontSize": 12, "color": "#333333", "baseline": "alphabetic", "align": "center"}, "encoding": {"text": {"field": "t"}}},
   {"data": {"name": "Dhd"}, "mark": {"type": "text", "fontSize": 19, "fontWeight": "bold", "color": "#000000", "baseline": "alphabetic", "align": "center"}, "encoding": {"text": {"field": "t"}}},
   {"data": {"name": "Dnls"}, "mark": {"type": "text", "fontSize": 16.5, "fontWeight": "bold", "color": "#000000", "baseline": "alphabetic", "align": "right"}, "encoding": {"text": {"field": "t"}}}
  ]
 },
 {
  "width": 283, "height": 204,
  "title": {"text": "B", "dx": -70, "dy": 5},
  "encoding": {
   "x": {"field": "m", "type": "quantitative", "title": "m/z", "scale": {"domain": [720, 850], "nice": false, "zero": false}, "axis": {"values": [720,730,740,750,760,770,780,790,800,810,820,830,840,850], "labelExpr": "datum.value % 20 == 0 ? datum.label : ''", "format": "d", "labelPadding": 3.2, "titlePadding": 1.6}},
   "y": {"field": "v", "type": "quantitative", "title": "Intensity", "scale": {"domain": [0, 140000], "nice": false}, "axis": {"values": [0,20000,40000,60000,80000,100000,120000,140000], "format": "d"}}
  },
  "layer": [
   {"data": {"name": "B"}, "mark": {"type": "line", "color": "#000000", "strokeWidth": 1}},
   {"data": {"name": "Bpk"}, "mark": {"type": "text", "fontSize": 12, "color": "#333333", "baseline": "alphabetic", "align": "center"}, "encoding": {"text": {"field": "t"}}},
   {"data": {"name": "Bnls"}, "mark": {"type": "text", "fontSize": 16.5, "fontWeight": "bold", "color": "#000000", "baseline": "alphabetic", "align": "right"}, "encoding": {"text": {"field": "t"}}}
  ]
 },
 {
  "width": 283, "height": 204,
  "title": {"text": "E", "dx": -78, "dy": -5.8},
  "encoding": {
   "x": {"field": "m", "type": "quantitative", "title": "m/z", "scale": {"domain": [780, 910], "nice": false, "zero": false}, "axis": {"values": [780,790,800,810,820,830,840,850,860,870,880,890,900,910], "labelExpr": "datum.value % 20 == 0 && datum.value < 910 ? datum.label : ''", "format": "d", "labelPadding": -2.3, "titlePadding": 7}},
   "y": {"field": "v", "type": "quantitative", "title": "Intensity", "scale": {"domain": [0, 240000], "nice": false}, "axis": {"values": [0,40000,80000,120000,160000,200000,240000], "format": "d", "labelFontSize": 10.5, "tickSize": 4, "labelPadding": 6, "titlePadding": 14}}
  },
  "layer": [
   {"data": {"name": "E"}, "mark": {"type": "line", "color": "#000000", "strokeWidth": 1}},
   {"data": {"name": "Epk"}, "mark": {"type": "text", "fontSize": 12, "color": "#333333", "baseline": "alphabetic", "align": "center"}, "encoding": {"text": {"field": "t"}}},
   {"data": {"name": "Enls"}, "mark": {"type": "text", "fontSize": 16.5, "fontWeight": "bold", "color": "#000000", "baseline": "alphabetic", "align": "right"}, "encoding": {"text": {"field": "t"}}}
  ]
 },
 {
  "width": 283, "height": 222.2,
  "title": {"text": "C", "dx": -70.3, "dy": 23.6},
  "encoding": {
   "x": {"field": "m", "type": "quantitative", "title": "m/z", "scale": {"domain": [752, 768], "nice": false, "zero": false}, "axis": {"values": [752,753,754,755,756,757,758,759,760,761,762,763,764,765,766,767,768], "labelExpr": "datum.value % 2 == 0 ? datum.label : ''", "format": "d", "labelPadding": 5.1, "titlePadding": 3.5}},
   "y": {"field": "v", "type": "quantitative", "title": "Relative Intensity", "scale": {"domain": [0, 100], "nice": false, "range": [222.2, 17.9]}, "axis": {"values": [0,20,40,60,80,100], "format": "d", "labelFontSize": 13, "titlePadding": 8}}
  },
  "layer": [
   {"data": {"name": "C"}, "mark": {"type": "line", "color": "#000000", "strokeWidth": 1, "interpolate": "monotone"}},
   {"data": {"name": "Cpk"}, "mark": {"type": "text", "fontSize": 12, "color": "#333333", "baseline": "alphabetic", "align": "center"}, "encoding": {"text": {"field": "t"}}},
   {"data": {"name": "Cnls"}, "mark": {"type": "text", "fontSize": 16.5, "fontWeight": "bold", "color": "#000000", "baseline": "alphabetic", "align": "right"}, "encoding": {"text": {"field": "t"}}},
   {"data": {"name": "Crot"}, "mark": {"type": "text", "fontSize": 14, "color": "#000000", "baseline": "middle", "align": "center", "angle": 270}, "encoding": {"text": {"field": "t"}}}
  ]
 },
 {
  "width": 283, "height": 222.2,
  "title": {"text": "F", "dx": -74, "dy": 23.6},
  "encoding": {
   "x": {"field": "m", "type": "quantitative", "title": "m/z", "scale": {"domain": [812, 826], "nice": false, "zero": false}, "axis": {"values": [812,813,814,815,816,817,818,819,820,821,822,823,824,825,826], "labelExpr": "datum.value % 2 == 0 ? datum.label : ''", "format": "d", "labelPadding": 3.4, "titlePadding": 5.2}},
   "y": {"field": "v", "type": "quantitative", "title": "Relative Intensity", "scale": {"domain": [0, 100], "nice": false, "range": [222.2, 17.9]}, "axis": {"values": [0,20,40,60,80,100], "format": "d", "labelFontSize": 12, "titlePadding": 10}}
  },
  "layer": [
   {"data": {"name": "F"}, "mark": {"type": "line", "color": "#000000", "strokeWidth": 1, "interpolate": "monotone"}},
   {"data": {"name": "Fpk"}, "mark": {"type": "text", "fontSize": 12, "color": "#333333", "baseline": "alphabetic", "align": "center"}, "encoding": {"text": {"field": "t"}}},
   {"data": {"name": "Fnls"}, "mark": {"type": "text", "fontSize": 16.5, "fontWeight": "bold", "color": "#000000", "baseline": "alphabetic", "align": "right"}, "encoding": {"text": {"field": "t"}}},
   {"data": {"name": "Frot"}, "mark": {"type": "text", "fontSize": 14, "color": "#000000", "baseline": "middle", "align": "center", "angle": 270}, "encoding": {"text": {"field": "t"}}}
  ]
 }
]
}
